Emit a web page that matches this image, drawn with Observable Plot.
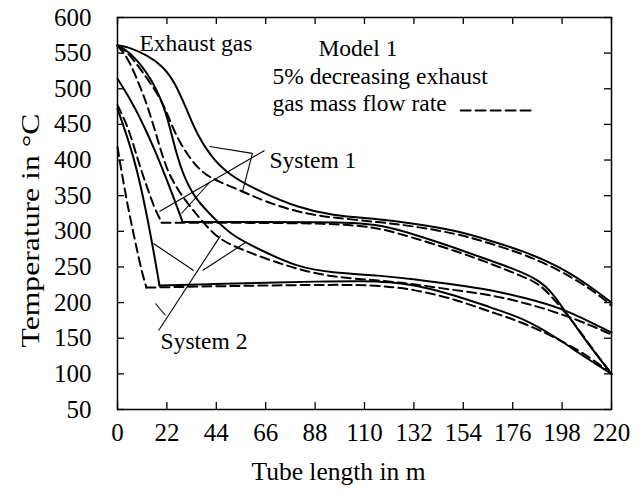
<!DOCTYPE html>
<html>
<head>
<meta charset="utf-8">
<script src="https://cdn.jsdelivr.net/npm/d3@7"></script>
<script src="https://cdn.jsdelivr.net/npm/@observablehq/plot@0.6"></script>
<style>
  html, body { margin: 0; padding: 0; background: #fff; }
  #chart svg { display: block; }
</style>
</head>
<body>
<div id="chart"></div>
<script>
// ---- tick values ----
const xTicks = [0, 22, 44, 66, 88, 110, 132, 154, 176, 198, 220];
const yTicks = [50, 100, 150, 200, 250, 300, 350, 400, 450, 500, 550, 600];

// ---- System 1 exhaust gas (solid = base, dashed = 5% less mass flow) ----
const exhaust1Solid = [[0,561],[4.5,559],[13.4,547],[20,532],[25.4,510],[30.7,472],[35.6,434],[43.2,398],[52.1,374],[65.5,353],[80,334],[95,322],[117,317],[132,311],[151,301],[166,287],[181,272],[196,252],[211,222],[220,200]];
const exhaust1Dashed = [[0,560],[3,556],[8,537],[13.4,514],[19.6,484],[23,458],[27,428],[33,399],[38,382],[44,371],[55.7,356],[65.5,342],[80,327],[95,319],[117,313],[132,307],[151,297],[166,283],[181,268],[196,247],[211,219],[220,196]];

// ---- System 2 exhaust gas ----
const exhaust2Solid = [[0,561],[4.5,554],[13.4,524],[21,476],[24.5,430],[28.5,384],[34.3,346],[43.2,318],[50.8,294],[65.5,271],[80,250],[95,242],[117,238],[132,233],[151,225],[166,218],[181,207],[198,192],[211,172],[220,158]];
const exhaust2Dashed = [[0,560],[4.5,545],[9.8,505],[13.4,476],[17.8,430],[22,384],[28.5,350],[35.6,322],[43.2,294],[50.8,280],[65.5,262],[80,247],[95,236],[117,231],[132,226],[151,217],[166,211],[181,200],[196,186],[211,168],[220,155]];

// ---- System 1 water/steam: superheater part and evaporator+economizer part ----
const water1SolidSH = [[0,514],[7.6,476],[16.5,416],[24,356],[29,313]];
const water1SolidEco = [[29,313],[60,313],[90,313],[105,312],[117,309],[132,296],[151,276],[166,259],[181,242],[188,230],[193,216],[198,194],[206,158],[213,128],[220,100]];
const water1DashedSH = [[0,477],[4.5,448],[7.6,416],[10.7,384],[13.4,360],[16.5,332],[19.6,313]];
const water1DashedEco = [[19.6,312],[60,312],[95,311],[110,307],[117,304],[132,291],[151,272],[166,255],[181,236],[188,226],[194,206],[200,184],[206,160],[211,137],[220,100]];

// ---- System 2 water/steam ----
const water2SolidSH = [[0,472],[6.2,416],[10.7,360],[15.1,290],[18.7,224]];
const water2SolidEco = [[18.7,224],[44,226],[66,228],[88,229.5],[110,230.5],[121,229],[132,225],[151,210],[166,193],[181,178],[196,150],[206,128],[213,114],[220,100]];
const water2DashedSH = [[0,418],[1.8,384],[4.5,336],[7.6,290],[10.7,244],[12.9,221]];
const water2DashedEco = [[12.9,221],[44,223],[88,225],[113,225],[132,219],[151,204],[166,187],[181,172],[200,143],[211,122],[220,100]];

// ---- annotation leader lines [x1,y1,x2,y2] in data units ----
const leaders = [
  [41,419,60.1,409.3],
  [60.1,409.3,55.7,355.9],
  [65.5,413.4,18.7,327.8],
  [41.4,369.9,28.5,325],
  [16,282.9,33.9,245],
  [37.9,245,57,284.3],
  [45.9,294,18.3,160.8],
  [16.9,198.7,21.4,181.9]
];

// ---- text annotations ----
const labels = [
  {x: 9.8, y: 563.5, text: "Exhaust gas"},
  {x: 89.5, y: 556.5, text: "Model 1"},
  {x: 69, y: 517.4, text: "5% decreasing exhaust"},
  {x: 69, y: 479.3, text: "gas mass flow rate"},
  {x: 67.7, y: 399, text: "System 1"},
  {x: 19.2, y: 145.4, text: "System 2"}
];
const legendDash = [[152.8,469.5],[185.3,469.5]];

const solidSeries = {exhaust1Solid, exhaust2Solid, water1SolidSH, water1SolidEco, water2SolidSH, water2SolidEco};
const dashedSeries = {exhaust1Dashed, exhaust2Dashed, water1DashedSH, water1DashedEco, water2DashedSH, water2DashedEco};
const toRows = (obj) => Object.entries(obj).flatMap(([id, pts]) => pts.map(([x, y]) => ({id, x, y})));
const solidRows = toRows(solidSeries);
const dashedRows = toRows(dashedSeries);
const leaderRows = leaders.map(([x1,y1,x2,y2]) => ({x1,y1,x2,y2}));

const W = 639, H = 499, mL = 117, mR = 28, mT = 17, mB = 90;
const fw = W - mL - mR, fh = H - mT - mB, tk = 7;
const font = "'Liberation Serif', 'Times New Roman', serif";

const chart = Plot.plot({
  width: W, height: H,
  marginLeft: mL, marginRight: mR, marginTop: mT, marginBottom: mB,
  x: {domain: [0, 220]},
  y: {domain: [50, 600]},
  style: {fontFamily: font, fontSize: "25px", color: "#000", background: "#fff", overflow: "visible"},
  marks: [
    // inward ticks on all four sides
    Plot.tickX(xTicks, {x: d => d, insetTop: fh - tk, stroke: "#000", strokeWidth: 1.3}),
    Plot.tickX(xTicks, {x: d => d, insetBottom: fh - tk, stroke: "#000", strokeWidth: 1.3}),
    Plot.tickY(yTicks, {y: d => d, insetRight: fw - tk, stroke: "#000", strokeWidth: 1.3}),
    Plot.tickY(yTicks, {y: d => d, insetLeft: fw - tk, stroke: "#000", strokeWidth: 1.3}),
    Plot.axisX({ticks: xTicks, tickSize: 0, tickPadding: 14, label: null, fontSize: 25}),
    Plot.axisY({ticks: yTicks, tickSize: 0, tickPadding: 26, label: null, fontSize: 25}),
    Plot.line(solidRows, {x: "x", y: "y", z: "id", curve: "basis", stroke: "#000", strokeWidth: 2}),
    Plot.line(dashedRows, {x: "x", y: "y", z: "id", curve: "basis", stroke: "#000", strokeWidth: 2, strokeDasharray: "9,5"}),
    Plot.link(leaderRows, {x1: "x1", y1: "y1", x2: "x2", y2: "y2", stroke: "#000", strokeWidth: 1.1}),
    Plot.line(legendDash, {x: d => d[0], y: d => d[1], stroke: "#000", strokeWidth: 2, strokeDasharray: "10,5"}),
    Plot.text(labels, {x: "x", y: "y", text: "text", textAnchor: "start", lineAnchor: "middle", fontSize: 23.5, fill: "#000"}),
    Plot.text(["Tube length in m"], {frameAnchor: "bottom", textAnchor: "middle", lineAnchor: "middle", dy: 62, dx: -26, fontSize: 26, fill: "#000"}),
    Plot.text(["Temperature in °C"], {frameAnchor: "left", textAnchor: "middle", lineAnchor: "middle", rotate: -90, dx: -87, dy: 17, fontSize: 26, fill: "#000"}),
    Plot.frame({stroke: "#000", strokeWidth: 1.5})
  ]
});
// stretch the axis titles to the lengths seen in the reference
d3.select(chart).selectAll("text")
  .filter(function () { return this.textContent === "Temperature in °C"; })
  .attr("textLength", 234).attr("lengthAdjust", "spacingAndGlyphs");
d3.select(chart).selectAll("text")
  .filter(function () { return this.textContent === "Tube length in m"; })
  .attr("textLength", 174).attr("lengthAdjust", "spacingAndGlyphs");
document.getElementById("chart").appendChild(chart);
</script>
</body>
</html>
